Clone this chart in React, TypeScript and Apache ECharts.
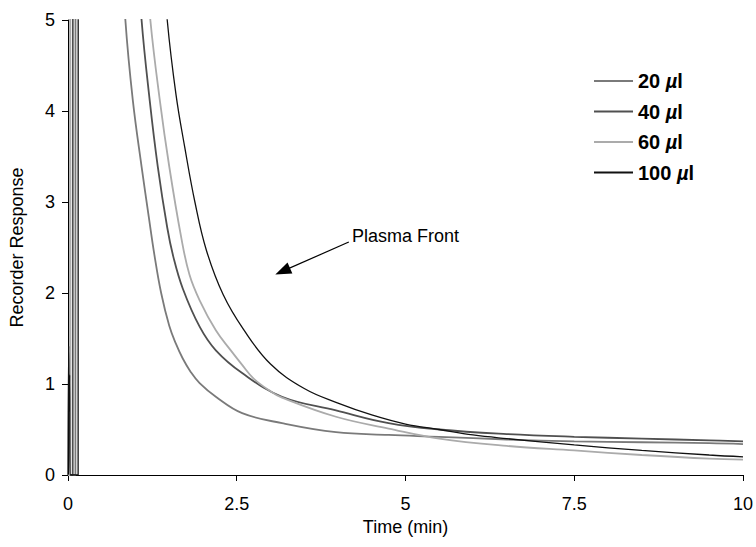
import React, { useEffect, useRef } from "react";
import * as echarts from "echarts";

const seriesNames = ["20 µl", "40 µl", "60 µl", "100 µl"];
const seriesColors = ["#7a7a7a", "#505050", "#ababab", "#111111"];
const seriesWidths = [1.8, 1.8, 1.8, 1.3];

// [time (min), response]
const data20: number[][] = [
  [0, 0], [0.11, 0], [0.112, 10], [0.78, 10], [0.82, 5.6],
  [0.85, 5.0], [0.96, 4.12], [1.09, 3.39], [1.2, 2.82], [1.28, 2.42], [1.38, 2.0],
  [1.5, 1.64], [1.6, 1.44], [1.7, 1.28], [1.82, 1.13], [1.95, 1.01], [2.19, 0.86],
  [2.58, 0.68], [3.17, 0.57], [3.97, 0.47], [4.75, 0.44], [5.5, 0.42], [6.5, 0.39],
  [7.5, 0.37], [8.5, 0.36], [9.5, 0.35], [10, 0.34],
];
const data40: number[][] = [
  [0, 0], [0.07, 0], [0.072, 10], [1.0, 10], [1.05, 5.6],
  [1.09, 5.0], [1.21, 4.12], [1.33, 3.39], [1.47, 2.72], [1.56, 2.4], [1.7, 2.05],
  [1.95, 1.63], [2.19, 1.37], [2.58, 1.12], [3.17, 0.86], [3.97, 0.71], [4.75, 0.57],
  [5.5, 0.5], [6.5, 0.45], [7.5, 0.42], [8.5, 0.4], [9.5, 0.38], [10, 0.37],
];
const data60: number[][] = [
  [0, 0], [0.03, 0], [0.032, 10], [1.12, 10], [1.17, 5.6],
  [1.22, 5.0], [1.36, 4.12], [1.5, 3.39], [1.68, 2.6], [1.8, 2.2], [1.95, 1.92],
  [2.19, 1.59], [2.4, 1.38], [2.58, 1.21], [2.75, 1.06], [3.0, 0.92], [3.17, 0.85],
  [3.97, 0.64], [4.75, 0.51], [5.5, 0.4], [6.5, 0.32], [7.5, 0.27], [8.5, 0.22],
  [9.5, 0.18], [10, 0.17],
];
const data100: number[][] = [
  [0, 0], [0.01, 1.42], [0.018, 0.7], [0.024, 1.1], [0.03, 0], [0.15, 0], [0.152, 10],
  [1.35, 10], [1.42, 5.6],
  [1.47, 5.0], [1.6, 4.18], [1.73, 3.6], [1.88, 3.0], [2.05, 2.47], [2.3, 1.98],
  [2.6, 1.6], [3.0, 1.22], [3.5, 0.95], [4.0, 0.79], [4.5, 0.66], [5.0, 0.56], [5.5, 0.5],
  [6.0, 0.44], [6.5, 0.4], [7.5, 0.33], [8.5, 0.27], [9.5, 0.22], [10, 0.2],
];
const allData = [data20, data40, data60, data100];

const xTicks = { min: 0, max: 10, interval: 2.5 };
const yTicks = { min: 0, max: 5, interval: 1 };

// annotation arrow: [start, end] in data coordinates
const arrowStart = [4.16, 2.56];
const arrowEnd = [3.18, 2.24];
const annotationText = "Plasma Front";

const FONT = "'Liberation Sans', Arial, Helvetica, sans-serif";

export default function App() {
  const ref = useRef<HTMLDivElement>(null);
  useEffect(() => {
    if (!ref.current) return;
    const chart = echarts.init(ref.current, undefined, { renderer: "svg" });
    const series: any[] = allData.map((d, i) => ({
      name: seriesNames[i],
      type: "line",
      data: d,
      symbol: "none",
      showSymbol: false,
      clip: true,
      smooth: 0.4,
      color: seriesColors[i],
      lineStyle: { color: seriesColors[i], width: seriesWidths[i] },
      z: 2 + i,
    }));
    series[3].markLine = {
      silent: true,
      symbol: ["none", "triangle"],
      symbolSize: [12, 16],
      label: { show: false },
      lineStyle: { color: "#000", width: 1.2, type: "solid" },
      data: [[{ coord: arrowStart }, { coord: arrowEnd }]],
    };
    chart.setOption({
      animation: false,
      backgroundColor: "#fff",
      textStyle: { fontFamily: FONT },
      grid: { left: 68, right: 10, top: 20, bottom: 72, containLabel: false },
      xAxis: {
        type: "value",
        min: xTicks.min,
        max: xTicks.max,
        interval: xTicks.interval,
        name: "Time (min)",
        nameLocation: "middle",
        nameGap: 41,
        nameTextStyle: { fontSize: 18, color: "#000", fontFamily: FONT },
        axisLine: { show: true, lineStyle: { color: "#000", width: 1 } },
        axisTick: { show: true, inside: false, length: 6, lineStyle: { color: "#000" } },
        axisLabel: { fontSize: 18, color: "#000", margin: 20, fontFamily: FONT },
        splitLine: { show: false },
      },
      yAxis: {
        type: "value",
        min: yTicks.min,
        max: yTicks.max,
        interval: yTicks.interval,
        name: "Recorder Response",
        nameLocation: "middle",
        nameGap: 42,
        nameTextStyle: { fontSize: 18, color: "#000", fontFamily: FONT },
        axisLine: { show: true, lineStyle: { color: "#000", width: 1 } },
        axisTick: { show: true, inside: false, length: 6, lineStyle: { color: "#000" } },
        axisLabel: { fontSize: 18, color: "#000", margin: 13, fontFamily: FONT },
        splitLine: { show: false },
      },
      legend: {
        orient: "vertical",
        left: 589,
        top: 66,
        itemWidth: 39,
        itemHeight: 2,
        itemGap: 10.5,
        icon: "rect",
        selectedMode: false,
        data: seriesNames,
        formatter: (name: string) => {
          const num = name.split(" ")[0];
          return `{b|${num} }{i|µ}{b|l}`;
        },
        textStyle: {
          fontSize: 20,
          lineHeight: 19,
          rich: {
            b: { fontSize: 20, fontWeight: "bold", color: "#000", fontFamily: FONT, lineHeight: 19 },
            i: { fontSize: 20, fontWeight: "bold", fontStyle: "italic", color: "#000", fontFamily: FONT, lineHeight: 19 },
          },
        },
      },
      graphic: [
        {
          type: "text",
          left: 352,
          top: 227,
          style: { text: annotationText, fontSize: 18, fill: "#000", fontFamily: FONT },
        },
      ],
      series,
    });
    return () => chart.dispose();
  }, []);
  return (
    <div
      ref={ref}
      style={{ position: "fixed", left: 0, top: 0, width: 756, height: 547, background: "#fff" }}
    />
  );
}
